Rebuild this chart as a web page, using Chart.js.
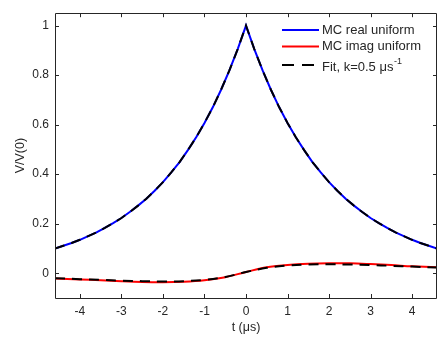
<!DOCTYPE html>
<html>
<head>
<meta charset="utf-8">
<script src="https://cdn.jsdelivr.net/npm/chart.js@4.4.0/dist/chart.umd.min.js"></script>
<style>
  html, body { margin: 0; padding: 0; background: #fff; }
</style>
</head>
<body>
<canvas id="chart" width="438" height="342"></canvas>
<script>
// values
const T_REAL = [-4.6, -4.4, -4.2, -4.0, -3.8, -3.6, -3.4, -3.2, -3.0, -2.8, -2.6, -2.4,
  -2.2, -2.0, -1.8, -1.6, -1.4, -1.2, -1.0, -0.8, -0.6, -0.4, -0.2, 0,
  0.2, 0.4, 0.6, 0.8, 1.0, 1.2, 1.4, 1.6, 1.8, 2.0, 2.2, 2.4,
  2.6, 2.8, 3.0, 3.2, 3.4, 3.6, 3.8, 4.0, 4.2, 4.4, 4.6];
const REAL_MC = [0.100, 0.111, 0.122, 0.135, 0.150, 0.165, 0.183, 0.202, 0.223, 0.247, 0.273, 0.301,
  0.333, 0.368, 0.407, 0.449, 0.497, 0.549, 0.607, 0.670, 0.741, 0.819, 0.905, 1.000,
  0.905, 0.819, 0.741, 0.670, 0.607, 0.549, 0.497, 0.449, 0.407, 0.368, 0.333, 0.301,
  0.273, 0.247, 0.223, 0.202, 0.183, 0.165, 0.150, 0.135, 0.122, 0.111, 0.100];
const REAL_FIT = REAL_MC.slice();

const T_IMAG = [-4.6, -4, -3.5, -3, -2.5, -2, -1.5, -1, -0.5, 0, 0.5, 1, 1.5, 2, 2.5, 3, 3.5, 4, 4.6];
const IMAG_MC = [-0.021, -0.025, -0.028, -0.032, -0.035, -0.036, -0.034, -0.028, -0.016, 0.005,
  0.024, 0.033, 0.038, 0.040, 0.040, 0.037, 0.033, 0.028, 0.024];
const IMAG_FIT = [-0.020, -0.024, -0.027, -0.030, -0.032, -0.033, -0.032, -0.027, -0.015, 0.005,
  0.022, 0.031, 0.035, 0.036, 0.035, 0.033, 0.030, 0.027, 0.023];

const X_TICKS = [-4, -3, -2, -1, 0, 1, 2, 3, 4];
const Y_TICKS = [0, 0.2, 0.4, 0.6, 0.8, 1];

const FONT = "'Liberation Sans', Arial, Helvetica, sans-serif";
const INK = '#262626';
const DASH = [10, 7];

function pts(xs, ys) {
  return xs.map((x, i) => ({ x: x, y: ys[i] }));
}

// MATLAB style box with inward ticks
const framePlugin = {
  id: 'frame',
  afterDatasetsDraw(chart) {
    const { ctx, chartArea: a, scales: { x, y } } = chart;
    ctx.save();
    ctx.strokeStyle = INK;
    ctx.lineWidth = 1;
    ctx.beginPath();
    ctx.rect(Math.round(a.left) + 0.5, Math.round(a.top) + 0.5,
      Math.round(a.right - a.left) - 1, Math.round(a.bottom - a.top));
    X_TICKS.forEach(v => {
      const px = Math.round(x.getPixelForValue(v)) + 0.5;
      ctx.moveTo(px, a.bottom); ctx.lineTo(px, a.bottom - 4);
      ctx.moveTo(px, a.top); ctx.lineTo(px, a.top + 4);
    });
    Y_TICKS.forEach(v => {
      const py = Math.round(y.getPixelForValue(v)) + 0.5;
      ctx.moveTo(a.left, py); ctx.lineTo(a.left + 4, py);
      ctx.moveTo(a.right, py); ctx.lineTo(a.right - 4, py);
    });
    ctx.stroke();
    ctx.restore();
  }
};

// legend drawn by hand so the superscript can be kept
const legendPlugin = {
  id: 'matlabLegend',
  afterDraw(chart) {
    const ctx = chart.ctx;
    const x0 = 282, x1 = 319, tx = 322;
    const rows = [
      { y: 30, color: '#0000ff', dash: [], text: 'MC real uniform' },
      { y: 46.5, color: '#ff0000', dash: [], text: 'MC imag uniform' },
      { y: 65, color: '#000000', dash: [12, 8], text: 'Fit, k=0.5 μs', sup: '-1' }
    ];
    ctx.save();
    rows.forEach(r => {
      ctx.beginPath();
      ctx.strokeStyle = r.color;
      ctx.lineWidth = 2;
      ctx.setLineDash(r.dash);
      ctx.moveTo(x0, r.y); ctx.lineTo(x1, r.y);
      ctx.stroke();
      ctx.setLineDash([]);
      ctx.fillStyle = INK;
      ctx.font = '13px ' + FONT;
      ctx.textBaseline = 'middle';
      ctx.textAlign = 'left';
      const ty = r.sup ? r.y + 2.5 : r.y;
      ctx.fillText(r.text, tx, ty);
      if (r.sup) {
        const w = ctx.measureText(r.text).width;
        ctx.font = '9px ' + FONT;
        ctx.fillText(r.sup, tx + w + 0.5, ty - 6);
      }
    });
    ctx.restore();
  }
};

new Chart(document.getElementById('chart'), {
  type: 'line',
  data: {
    datasets: [
      { label: 'Fit real', data: pts(T_REAL, REAL_FIT), borderColor: '#000000', borderWidth: 2,
        borderDash: DASH, pointRadius: 0, order: 0 },
      { label: 'Fit imag', data: pts(T_IMAG, IMAG_FIT), borderColor: '#000000', borderWidth: 2,
        borderDash: DASH, pointRadius: 0, tension: 0.35, order: 0 },
      { label: 'MC real uniform', data: pts(T_REAL, REAL_MC), borderColor: '#0000ff', borderWidth: 2,
        pointRadius: 0, order: 1 },
      { label: 'MC imag uniform', data: pts(T_IMAG, IMAG_MC), borderColor: '#ff0000', borderWidth: 2,
        pointRadius: 0, tension: 0.35, order: 1 }
    ]
  },
  options: {
    responsive: false,
    animation: false,
    layout: { padding: { top: 10, right: 1, left: 0, bottom: 0 } },
    plugins: { legend: { display: false }, tooltip: { enabled: false } },
    scales: {
      x: {
        type: 'linear',
        min: -4.6, max: 4.6,
        grid: { display: false, drawTicks: false },
        border: { display: false },
        afterBuildTicks: s => { s.ticks = X_TICKS.map(v => ({ value: v })); },
        afterFit: s => { s.height = 44; },
        ticks: { color: INK, font: { family: FONT, size: 12 }, padding: 6,
          maxRotation: 0, callback: v => String(v) },
        title: { display: true, text: 't (μs)', color: INK,
          font: { family: FONT, size: 12.5 }, padding: { top: 0, bottom: 6.5 } }
      },
      y: {
        min: -0.1, max: 1.05,
        grid: { display: false, drawTicks: false },
        border: { display: false },
        afterBuildTicks: s => { s.ticks = Y_TICKS.map(v => ({ value: v })); },
        afterFit: s => { s.width = 55; },
        ticks: { color: INK, font: { family: FONT, size: 12 }, padding: 6,
          callback: v => String(v) },
        title: { display: true, text: 'V/V(0)', color: INK,
          font: { family: FONT, size: 12.5 }, padding: { top: 13.5, bottom: 0 } }
      }
    }
  },
  plugins: [framePlugin, legendPlugin]
});
</script>
</body>
</html>
